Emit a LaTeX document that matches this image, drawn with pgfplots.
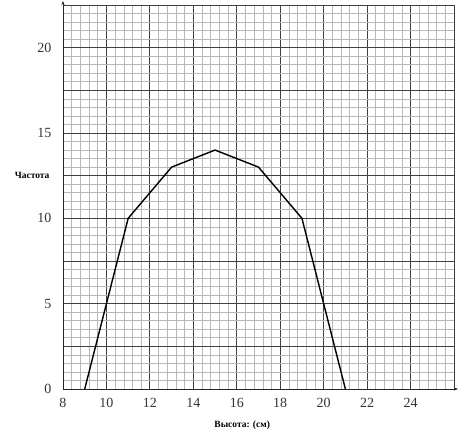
\documentclass[border=0pt]{standalone}
\usepackage{fontspec}
\setmainfont{Liberation Serif}
\usepackage{pgfplots}
\pgfplotsset{compat=1.18}
\usetikzlibrary{arrows.meta}
\begin{document}
\begin{tikzpicture}
\begin{axis}[
  scale only axis,
  width=391pt, height=384pt,
  xmin=8, xmax=26, ymin=0, ymax=22.5,
  axis lines=left,
  axis line style={black!85, line width=0.8pt, -{Stealth[length=4pt,width=3pt]}, shorten >=-4pt},
  xtick={8,10,...,26},
  xticklabels={8,10,12,14,16,18,20,22,24,},
  ytick={0,2.5,...,22.5},
  yticklabels={0,,5,,10,,15,,20,},
  minor x tick num=4,
  minor y tick num=4,
  grid=both,
  major grid style={black!75, line width=0.8pt},
  minor grid style={black!28, line width=0.6pt},
  major tick length=0pt, minor tick length=0pt,
  tick label style={font=\fontsize{14}{16}\selectfont, text=black!80},
  /pgf/number format/assume math mode=true,
  xticklabel style={yshift=-6pt},
  yticklabel style={xshift=-8pt},
  clip=false,
]
\addplot[black, line width=1.4pt] coordinates {(9,0) (11,10) (13,13) (15,14) (17,13) (19,10) (21,0)};
\node[font=\bfseries\fontsize{9.5}{11}\selectfont, anchor=east] at (axis cs:8,12.5) [xshift=-10pt] {Частота};
\node[font=\bfseries\fontsize{9.5}{11}\selectfont] at (axis cs:16.25,0) [yshift=-36pt] {Высота: (см)};
\coordinate (bl) at (rel axis cs:0,0);
\end{axis}
\pgfresetboundingbox
\path (bl) ++(-63pt,-46pt) rectangle ++(467pt,435pt);
\end{tikzpicture}
\end{document}
